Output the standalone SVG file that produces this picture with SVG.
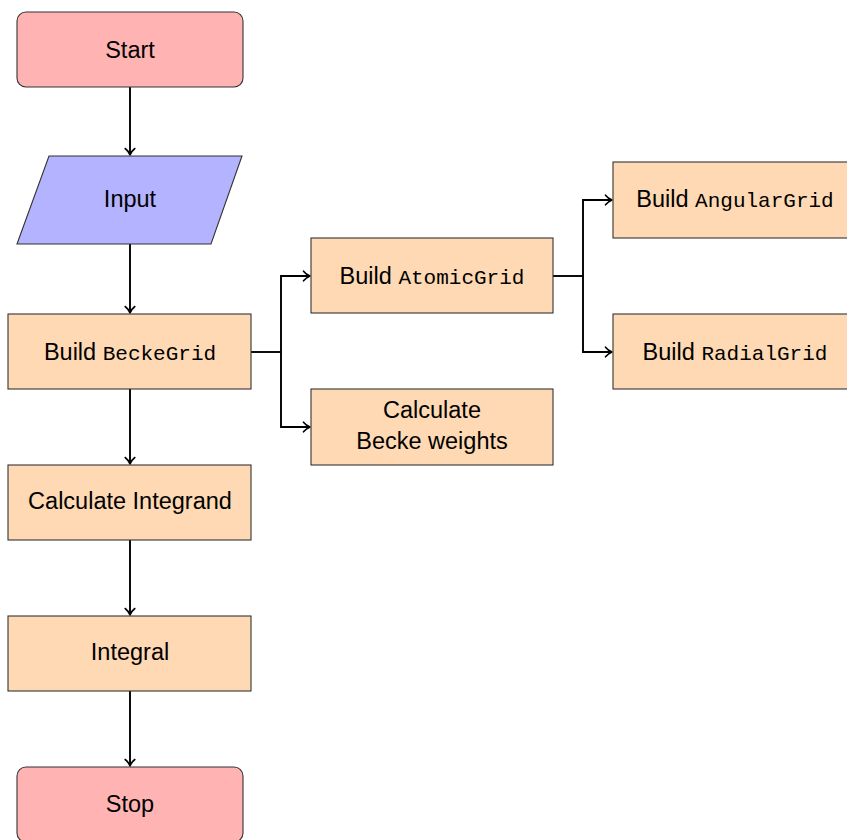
<svg xmlns="http://www.w3.org/2000/svg" width="847" height="840" viewBox="0 0 847 840">
<style>
text{font-family:"Liberation Sans",Arial,sans-serif;font-size:23.5px;fill:#000;text-anchor:middle}
.m{font-family:"Liberation Mono","Courier New",monospace;font-size:21px}
.box{stroke:#333;stroke-width:1.1}
.term{fill:#ffb3b3}
.io{fill:#b3b3ff}
.proc{fill:#ffd9b3}
.c{fill:none;stroke:#000;stroke-width:1.9}
.a{marker-end:url(#arr)}
</style>
<defs>
<marker id="arr" viewBox="-8 -6 10 12" refX="0" refY="0" markerWidth="10" markerHeight="12" orient="auto" markerUnits="userSpaceOnUse">
<path d="M -6.5 -4.8 C -4.5 -2.2 -1.5 -0.6 0 0 C -1.5 0.6 -4.5 2.2 -6.5 4.8" fill="none" stroke="#000" stroke-width="1.6" stroke-linecap="round" stroke-linejoin="round"/>
</marker>
</defs>
<g id="connectors">
<path class="c a" d="M130 87 V155"/>
<path class="c a" d="M130 244 V313"/>
<path class="c a" d="M130 389 V464"/>
<path class="c a" d="M130 540 V615"/>
<path class="c a" d="M130 691 V766"/>
<path class="c" d="M251 352 H281"/>
<path class="c a" d="M281 352 V276 H310"/>
<path class="c a" d="M281 352 V427 H310"/>
<path class="c" d="M553 276 H583"/>
<path class="c a" d="M583 276 V200 H612"/>
<path class="c a" d="M583 276 V352 H612"/>
</g>
<g id="start">
<rect class="box term" x="17" y="12" width="226" height="75" rx="9"/>
<text x="130" y="58">Start</text>
</g>
<g id="input">
<polygon class="box io" points="49,156 242,156 211,244 17,244"/>
<text x="130" y="207">Input</text>
</g>
<g id="beckegrid">
<rect class="box proc" x="8" y="314" width="243" height="75"/>
<text x="130" y="360">Build <tspan class="m">BeckeGrid</tspan></text>
</g>
<g id="integrand">
<rect class="box proc" x="8" y="465" width="243" height="75"/>
<text x="130" y="509">Calculate Integrand</text>
</g>
<g id="integral">
<rect class="box proc" x="8" y="616" width="243" height="75"/>
<text x="130" y="660">Integral</text>
</g>
<g id="stop">
<rect class="box term" x="17" y="767" width="226" height="75" rx="9"/>
<text x="130" y="812">Stop</text>
</g>
<g id="atomicgrid">
<rect class="box proc" x="311" y="238" width="242" height="75"/>
<text x="432" y="284">Build <tspan class="m">AtomicGrid</tspan></text>
</g>
<g id="weights">
<rect class="box proc" x="311" y="389" width="242" height="76"/>
<text x="432" y="418">Calculate</text>
<text x="432" y="449">Becke weights</text>
</g>
<g id="angulargrid">
<rect class="box proc" x="613" y="162" width="243" height="76"/>
<text x="735" y="207">Build <tspan class="m">AngularGrid</tspan></text>
</g>
<g id="radialgrid">
<rect class="box proc" x="613" y="314" width="243" height="75"/>
<text x="735" y="360">Build <tspan class="m">RadialGrid</tspan></text>
</g>
</svg>
